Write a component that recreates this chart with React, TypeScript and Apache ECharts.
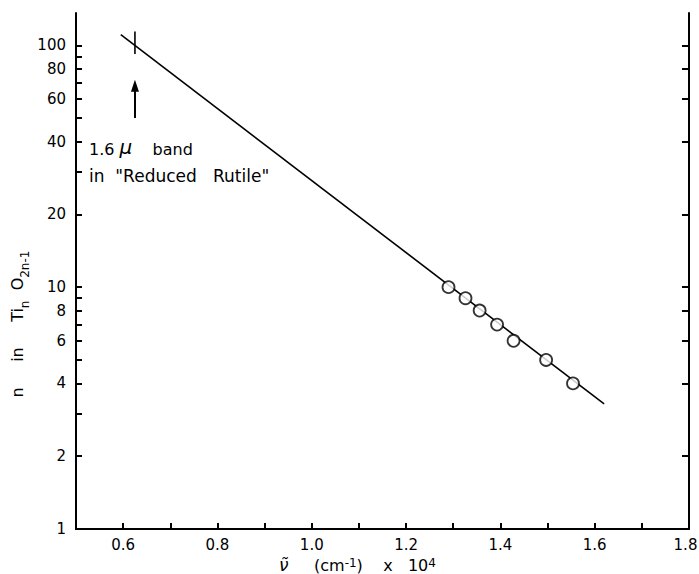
import React, { useEffect, useRef } from "react";
import * as echarts from "echarts";

// ---- data ----
const xLabelValues = [0.6, 0.8, 1.0, 1.2, 1.4, 1.6, 1.8];
const xTickValues = [0.6, 0.7, 0.8, 0.9, 1.0, 1.1, 1.2, 1.3, 1.4, 1.5, 1.6, 1.7];
const yLabelValues = [1, 2, 4, 6, 8, 10, 20, 40, 60, 80, 100];
const yLeftTickValues = [2, 3, 4, 5, 6, 7, 8, 9, 10, 20, 30, 40, 50, 60, 70, 80, 90, 100];
const yRightTickValues = [2, 4, 6, 8, 10, 20, 40, 60, 80, 100];

const pointX = [1.29, 1.326, 1.356, 1.393, 1.428, 1.497, 1.554];
const pointN = [10, 9, 8, 7, 6, 5, 4];

const fitX = [0.595, 1.62];
const fitN = [110.7, 3.29];

const bandX = [0.625, 0.625];
const bandN = [92, 114];

const arrowX = 0.625;
const arrowFromN = 50;
const arrowToN = 68;

const yTopN = 136;

const lg = (v: number) => Math.log10(v);
const FONT = "DejaVu Sans";

export default function App() {
  const ref = useRef<HTMLDivElement>(null);
  useEffect(() => {
    document.body.style.margin = "0";
    document.body.style.overflow = "hidden";
    const chart = echarts.init(ref.current!, null, { renderer: "svg" });
    const axisLine = { show: true, lineStyle: { color: "#000", width: 2 } };
    const xMax = xLabelValues[xLabelValues.length - 1];
    const option: any = {
      animation: false,
      backgroundColor: "#fff",
      textStyle: { fontFamily: FONT },
      grid: { left: 76, right: 10, top: 13, bottom: 45, containLabel: false, outerBoundsMode: "none" },
      xAxis: [
        {
          type: "value",
          min: 0.5,
          max: 1.8,
          interval: 0.1,
          axisLine,
          axisTick: { show: true, inside: true, length: 6, customValues: xTickValues, lineStyle: { color: "#000", width: 2 } },
          axisLabel: {
            customValues: xLabelValues,
            formatter: (v: number) =>
              Math.abs(v - xMax) < 1e-9 ? `{r|${v.toFixed(1)}}` : v.toFixed(1),
            color: "#000",
            fontSize: 15,
            fontFamily: FONT,
            margin: 8,
            hideOverlap: false,
            rich: {
              r: { fontSize: 15, fontFamily: FONT, color: "#000", padding: [0, 7, 0, 0] },
            },
          },
          splitLine: { show: false },
          name: "{v|ν̃}{a|     (cm}{p|-1}{a|)    x   10}{p|4}",
          nameLocation: "middle",
          nameGap: 28,
          nameMoveOverlap: false,
          nameTextStyle: {
            color: "#000",
            fontFamily: FONT,
            padding: [0, 50, 0, 0],
            rich: {
              v: { fontSize: 17, fontFamily: FONT, fontStyle: "italic", color: "#000", lineHeight: 16, verticalAlign: "bottom" },
              a: { fontSize: 16, fontFamily: FONT, color: "#000", lineHeight: 16, verticalAlign: "bottom" },
              p: { fontSize: 12, fontFamily: FONT, color: "#000", lineHeight: 16, verticalAlign: "top" },
            },
          },
        },
        {
          type: "value",
          position: "top",
          min: 0.5,
          max: 1.8,
          axisLine,
          axisTick: { show: false },
          axisLabel: { show: false },
          splitLine: { show: false },
        },
      ],
      yAxis: [
        {
          type: "value",
          min: 0,
          max: lg(yTopN),
          axisLine,
          axisTick: {
            show: true,
            inside: true,
            length: 6,
            customValues: yLeftTickValues.map(lg),
            lineStyle: { color: "#000", width: 2 },
          },
          axisLabel: {
            customValues: yLabelValues.map(lg),
            formatter: (v: number) => String(Math.round(Math.pow(10, v))),
            color: "#000",
            fontSize: 15,
            fontFamily: FONT,
            margin: 10,
          },
          splitLine: { show: false },
          name: "{a|n     in     Ti}{s|n}{a|  O}{s|2n-1}",
          nameLocation: "middle",
          nameRotate: 90,
          nameGap: 45,
          nameMoveOverlap: false,
          nameTextStyle: {
            color: "#000",
            fontFamily: FONT,
            padding: [0, 106, 0, 0],
            rich: {
              a: { fontSize: 16, fontFamily: FONT, color: "#000", lineHeight: 22, verticalAlign: "top" },
              s: { fontSize: 12, fontFamily: FONT, color: "#000", lineHeight: 14, verticalAlign: "bottom" },
            },
          },
        },
        {
          type: "value",
          position: "right",
          min: 0,
          max: lg(yTopN),
          axisLine,
          axisTick: {
            show: true,
            inside: true,
            length: 7,
            customValues: yRightTickValues.map(lg),
            lineStyle: { color: "#000", width: 2 },
          },
          axisLabel: { show: false },
          splitLine: { show: false },
        },
      ],
      series: [
        {
          type: "line",
          data: fitX.map((x, i) => [x, lg(fitN[i])]),
          symbol: "none",
          lineStyle: { color: "#000", width: 1.6 },
          silent: true,
          z: 2,
        },
        {
          type: "line",
          data: bandX.map((x, i) => [x, lg(bandN[i])]),
          symbol: "none",
          lineStyle: { color: "#000", width: 1.6 },
          silent: true,
          markLine: {
            silent: true,
            symbol: ["none", "triangle"],
            symbolSize: [8, 12],
            label: { show: false },
            lineStyle: { color: "#000", width: 2, type: "solid" },
            data: [
              [
                { coord: [arrowX, lg(arrowFromN)] },
                { coord: [arrowX, lg(arrowToN)] },
              ],
            ],
          },
        },
        {
          type: "scatter",
          data: pointX.map((x, i) => [x, lg(pointN[i])]),
          symbol: "circle",
          symbolSize: 12,
          itemStyle: { color: "#fff", borderColor: "#000", borderWidth: 1.8 },
          z: 3,
        },
      ],
      graphic: [
        {
          type: "text",
          left: 89,
          top: 137,
          style: {
            text: "{a|1.6 }{m|μ}{a|    band}",
            rich: {
              a: { fontSize: 16, fontFamily: FONT, fill: "#000", lineHeight: 22, verticalAlign: "bottom" },
              m: { fontSize: 20, fontFamily: FONT, fontStyle: "italic", fill: "#000", lineHeight: 22, verticalAlign: "bottom" },
            },
          },
        },
        {
          type: "text",
          left: 89,
          top: 167,
          style: {
            text: 'in  "Reduced   Rutile"',
            fontSize: 17,
            fontFamily: FONT,
            fill: "#000",
          },
        },
      ],
    };
    chart.setOption(option);
    return () => chart.dispose();
  }, []);
  return <div ref={ref} style={{ width: 699, height: 574 }} />;
}
